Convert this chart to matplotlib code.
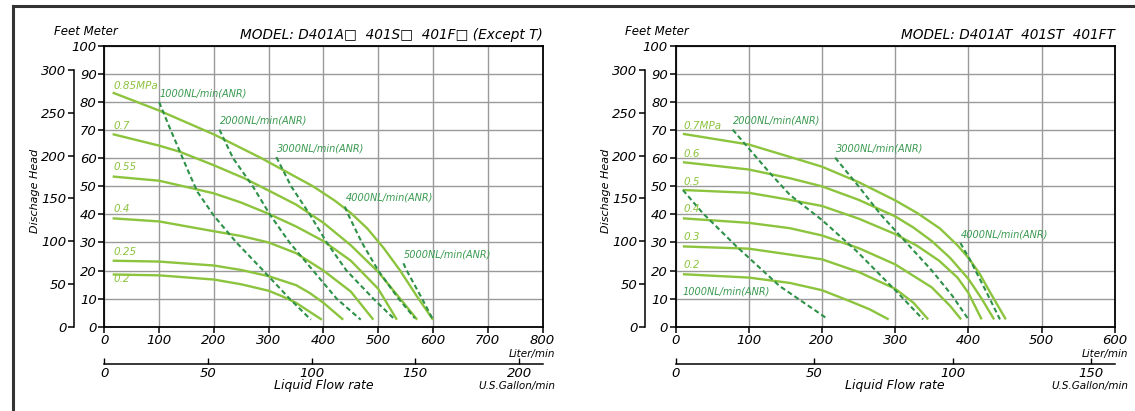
import matplotlib
matplotlib.use("Agg")
import matplotlib.pyplot as plt
from matplotlib.lines import Line2D

# unit conversions for the secondary scales
L_PER_GAL = 3.78541
FT_PER_M = 3.28084

# ---------------- left sheet: D401A / 401S / 401F (except T) ----------------
left_title = "MODEL: D401A\u25a1  401S\u25a1  401F\u25a1 (Except T)"
left_press_labels = ["0.85MPa", "0.7", "0.55", "0.4", "0.25", "0.2"]
left_press_flow = [
    [15, 100, 200, 287, 381, 420, 450, 480, 510, 540, 570, 600],
    [15, 100, 138, 200, 254, 300, 350, 400, 450, 500, 540, 571],
    [15, 100, 156, 200, 250, 300, 350, 400, 450, 500, 534],
    [15, 100, 200, 250, 300, 350, 400, 450, 491],
    [15, 100, 200, 250, 300, 350, 375, 400, 436],
    [15, 100, 200, 250, 300, 325, 350, 397],
]
left_press_head = [
    [83.4, 77, 68.5, 60, 50, 45, 40.5, 35, 28, 20, 11, 2.5],
    [68.6, 64.5, 62.3, 57.5, 53, 48.5, 43.5, 37, 29, 19.5, 10, 2.5],
    [53.5, 52, 49.5, 47.5, 44.2, 40.2, 35.7, 30.5, 23.5, 13.5, 2.5],
    [38.6, 37.5, 34, 32.3, 30, 26.2, 20, 12.5, 2.5],
    [23.5, 23.2, 21.8, 20.2, 18, 14.8, 12, 8.5, 2.5],
    [18.6, 18.3, 16.8, 15.1, 12.8, 10.8, 8.5, 2.5],
]
left_air_labels = ["1000NL/min(ANR)", "2000NL/min(ANR)", "3000NL/min(ANR)",
                   "4000NL/min(ANR)", "5000NL/min(ANR)"]
left_air_flow = [
    [100, 120, 138, 155, 170, 200, 241, 290, 338, 377],
    [210, 235, 271, 302, 338, 381, 424, 468],
    [314, 341, 375, 406, 442, 491, 528],
    [439, 445, 470, 500, 537, 567],
    [546, 552, 580, 600],
]
left_air_head = [
    [80, 70.5, 62.3, 54.5, 48, 39.5, 30, 20, 10, 2.5],
    [70.2, 60, 50, 40, 30, 20, 10, 2.5],
    [60.4, 50, 40, 30, 20, 10, 3],
    [42.8, 40, 30, 20, 10, 3],
    [22.6, 20, 10, 2.5],
]
left_xmax = 800
left_gal_ticks = [0, 50, 100, 150, 200]

# ---------------- right sheet: D401AT / 401ST / 401FT ----------------
right_title = "MODEL: D401AT  401ST  401FT"
right_press_labels = ["0.7MPa", "0.6", "0.5", "0.4", "0.3", "0.2"]
right_press_flow = [
    [10, 100, 156, 200, 250, 300, 330, 361, 385, 400, 415, 429, 451],
    [10, 100, 156, 200, 250, 300, 325, 350, 375, 400, 418, 435],
    [10, 100, 156, 200, 250, 300, 330, 360, 385, 400, 418],
    [10, 100, 156, 200, 250, 300, 350, 375, 390],
    [10, 100, 156, 200, 250, 300, 325, 345],
    [10, 100, 156, 200, 238, 265, 291],
]
right_press_head = [
    [68.7, 64.9, 60.5, 57, 51.5, 45, 40.5, 35, 29, 24.5, 19, 12.5, 2.6],
    [58.6, 56, 52.9, 50, 45.2, 39.3, 35.3, 30.5, 24.5, 17, 10, 2.6],
    [48.7, 47.7, 45.2, 43, 38.5, 33, 28.8, 23.5, 17.5, 12, 2.6],
    [38.6, 37, 35.1, 32.5, 28, 22.2, 14, 7.4, 2.6],
    [28.6, 27.8, 25.7, 24, 19.5, 13.5, 8.5, 2.6],
    [18.7, 17.5, 15.6, 13, 9.1, 6.2, 2.6],
]
right_air_labels = ["1000NL/min(ANR)", "2000NL/min(ANR)", "3000NL/min(ANR)",
                    "4000NL/min(ANR)"]
right_air_flow = [
    [10, 36.6, 82.4, 142, 208],
    [78, 128, 156, 200, 247, 300, 338],
    [218, 250, 280, 315, 350, 378, 400],
    [389, 402, 425, 443],
]
right_air_head = [
    [48.7, 40.6, 28.8, 14.5, 2.7],
    [70.2, 55, 47, 38, 27, 13, 2.6],
    [60.2, 50, 40, 30, 20, 11, 2.6],
    [29.8, 23.9, 12.1, 2.6],
]
right_xmax = 600
right_gal_ticks = [0, 50, 100, 150]

SOLID_CLR = "#8cc43e"
DASH_CLR = "#2e9148"
AIR_TXT_CLR = "#3a9a50"
GRID_CLR = "#9a9a9a"

plt.rcParams["font.family"] = ["DejaVu Sans"]
plt.rcParams["font.style"] = "italic"


def draw_sheet(ax, title, p_labels, p_flow, p_head, a_labels, a_flow, a_head,
               xmax, gal_ticks, p_lbl_dy, a_lbl_override):
    '''one pump performance sheet: meter/feet heads vs liter/gallon flow'''
    ax.set_xlim(0, xmax)
    ax.set_ylim(0, 100)
    ax.set_xticks(range(0, xmax + 1, 100))
    ax.set_yticks(range(0, 101, 10))
    ax.grid(True, color=GRID_CLR, lw=1.0)
    ax.set_axisbelow(True)
    for sp in ax.spines.values():
        sp.set_linewidth(1.3)
    ax.tick_params(direction="out", length=4, width=1.1, labelsize=9.5, pad=1.5)

    # pressure curves
    for lbl, fx, hy, dy in zip(p_labels, p_flow, p_head, p_lbl_dy):
        ax.plot(fx, hy, color=SOLID_CLR, lw=1.7, solid_capstyle="butt",
                solid_joinstyle="round")
        ax.text(fx[0] + 1, hy[0] + dy, lbl, color=SOLID_CLR, fontsize=7.5,
                va="center", ha="left")

    # air consumption lines
    for i, (lbl, fx, hy) in enumerate(zip(a_labels, a_flow, a_head)):
        ax.plot(fx, hy, color=DASH_CLR, lw=1.5, dashes=(2.4, 1.5))
        if i in a_lbl_override:
            tx, ty = a_lbl_override[i]
        else:
            tx, ty = fx[0] + 1, hy[0] + 3.2
        ax.text(tx, ty, lbl, color=AIR_TXT_CLR, fontsize=7, va="center", ha="left")

    # feet scale on the left
    axf = ax.twinx()
    axf.set_ylim(0, 100 * FT_PER_M)
    axf.yaxis.set_ticks_position("left")
    axf.spines["left"].set_position(("outward", 22))
    axf.spines["left"].set_bounds(0, 300)
    axf.spines["left"].set_linewidth(1.1)
    for s in ("right", "top", "bottom"):
        axf.spines[s].set_visible(False)
    axf.set_yticks(range(0, 301, 50))
    axf.tick_params(direction="out", length=4, width=1.1, labelsize=9.5, pad=1.5)

    # US gallon scale below
    sec = ax.secondary_xaxis(-0.134, functions=(lambda x: x / L_PER_GAL,
                                                lambda g: g * L_PER_GAL))
    sec.set_xticks(gal_ticks)
    sec.spines["bottom"].set_linewidth(1.1)
    sec.tick_params(direction="in", length=4, width=1.0, labelsize=9.5, pad=2)

    ax.text(1.0, 1.039, title, transform=ax.transAxes, ha="right", va="center",
            fontsize=9.8)
    ax.text(-0.115, 1.05, "Feet Meter", transform=ax.transAxes, ha="left",
            va="center", fontsize=8.5)
    ax.text(-0.158, 0.483, "Dischage Head", transform=ax.transAxes, rotation=90,
            ha="center", va="center", fontsize=8)
    ax.text(1.03, -0.097, "Liter/min", transform=ax.transAxes, ha="right",
            va="center", fontsize=7.5)
    ax.text(0.5, -0.211, "Liquid Flow rate", transform=ax.transAxes, ha="center",
            va="center", fontsize=9)
    ax.text(1.03, -0.211, "U.S.Gallon/min", transform=ax.transAxes, ha="right",
            va="center", fontsize=7.5)


fig = plt.figure(figsize=(11.35, 4.11), dpi=100)
ax_l = fig.add_axes([0.092, 0.2051, 0.386, 0.683])
ax_r = fig.add_axes([0.5952, 0.2051, 0.3871, 0.683])

draw_sheet(ax_l, left_title, left_press_labels, left_press_flow, left_press_head,
           left_air_labels, left_air_flow, left_air_head, left_xmax, left_gal_ticks,
           [2.3, 2.9, 3.3, 3.2, 3.2, -1.7], {})
draw_sheet(ax_r, right_title, right_press_labels, right_press_flow, right_press_head,
           right_air_labels, right_air_flow, right_air_head, right_xmax, right_gal_ticks,
           [2.9, 3.1, 3.0, 3.3, 3.3, 3.2], {0: (9, 12.6)})

# sheet border (top and left edges only)
fig.add_artist(Line2D([0.0112, 1.0], [0.985, 0.985], transform=fig.transFigure,
                      color="#333333", lw=2.2))
fig.add_artist(Line2D([0.0112, 0.0112], [0.0, 0.985], transform=fig.transFigure,
                      color="#333333", lw=2.2))

fig.savefig("out.png", dpi=100)
